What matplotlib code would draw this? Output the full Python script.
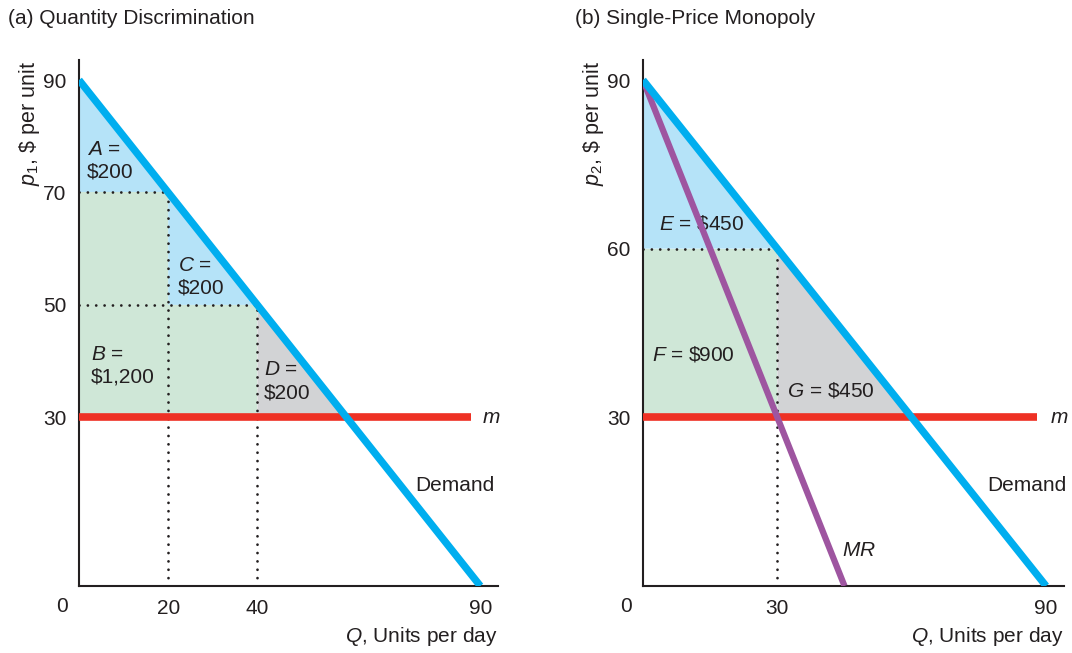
import matplotlib
matplotlib.use("Agg")
import matplotlib.pyplot as plt

plt.rcParams['font.family'] = ['Liberation Sans', 'DejaVu Sans']
plt.rcParams['mathtext.fontset'] = 'custom'
plt.rcParams['mathtext.rm'] = 'Liberation Sans'
plt.rcParams['mathtext.it'] = 'Liberation Sans:italic'

# demand, marginal cost and marginal revenue
demand_q = [0, 90]
demand_p = [90, 0]
mc_p = 30
mc_q = [0, 88]
mr_q = [0, 45]
mr_p = [90, 0]

# (a) quantity discrimination: block prices and quantities
blocks_q = [20, 40]
blocks_p = [70, 50]
area_a = [(0, 70), (0, 90), (20, 70)]
area_c = [(20, 50), (20, 70), (40, 50)]
area_b = [(0, 30), (0, 70), (20, 70), (20, 50), (40, 50), (40, 30)]
area_d = [(40, 30), (40, 50), (60, 30)]

# (b) single-price monopoly
mono_q = 30
mono_p = 60
area_e = [(0, 60), (0, 90), (30, 60)]
area_f = [(0, 30), (0, 60), (30, 60), (30, 30)]
area_g = [(30, 30), (30, 60), (60, 30)]

left_yticks = [30, 50, 70, 90]
left_xticks = [20, 40, 90]
right_yticks = [30, 60, 90]
right_xticks = [30, 90]

BLUE = '#00AEEF'
LBLUE = '#B5E3F8'
GREEN = '#CFE7D7'
GRAY = '#D2D3D5'
RED = '#EE3124'
PURPLE = '#9E55A0'
TXT = '#231F20'
FS = 15

fig = plt.figure(figsize=(10.72, 6.53), dpi=100)
ax1 = fig.add_axes([0.0737, 0.1026, 0.391, 0.805])
ax2 = fig.add_axes([0.5998, 0.1026, 0.3927, 0.805])


def setup(ax, xt, yt, ylab):
    ax.set_xlim(0, 94)
    ax.set_ylim(0, 93.5)
    for s in ['top', 'right']:
        ax.spines[s].set_visible(False)
    for s in ['left', 'bottom']:
        ax.spines[s].set_linewidth(1.5)
        ax.spines[s].set_color(TXT)
    ax.set_xticks(xt)
    ax.set_yticks(yt)
    ax.tick_params(length=0, labelsize=FS, labelcolor=TXT, pad=9)
    ax.annotate('0', xy=(0, 0), xytext=(-17, -20), textcoords='offset pixels',
                ha='center', va='center', fontsize=FS, color=TXT)
    ax.text(1.0, -0.097, '$Q$, Units per day', transform=ax.transAxes,
            ha='right', va='center', fontsize=FS, color=TXT)
    ax.text(-0.117, 0.998, ylab, transform=ax.transAxes, rotation=90,
            ha='center', va='top', fontsize=FS + 0.5, color=TXT)


def fill(ax, pts, color):
    ax.fill([p[0] for p in pts], [p[1] for p in pts], color=color, lw=0, zorder=1)


def dotted(ax, x, y):
    ax.plot(x, y, color=TXT, lw=2, linestyle=(0, (0.01, 3)),
            dash_capstyle='round', zorder=2)


# ---- panel (a)
setup(ax1, left_xticks, left_yticks, '$p_1$, \\$ per unit')
fill(ax1, area_a, LBLUE)
fill(ax1, area_c, LBLUE)
fill(ax1, area_b, GREEN)
fill(ax1, area_d, GRAY)
for q, p in zip(blocks_q, blocks_p):
    dotted(ax1, [0, q], [p, p])
    dotted(ax1, [q, q], [0, p])
ax1.plot(mc_q, [mc_p, mc_p], color=RED, lw=5.5, solid_capstyle='butt', zorder=3)
ax1.plot(demand_q, demand_p, color=BLUE, lw=5.3, solid_capstyle='butt', zorder=5)

ax1.text(1.8, 75.7, '$A$ =\n\\$200', fontsize=FS, color=TXT, va='center', linespacing=1.25)
ax1.text(22.2, 55, '$C$ =\n\\$200', fontsize=FS, color=TXT, va='center', linespacing=1.25)
ax1.text(2.7, 39.2, '$B$ =\n\\$1,200', fontsize=FS, color=TXT, va='center', linespacing=1.25)
ax1.text(41.5, 36.4, '$D$ =\n\\$200', fontsize=FS, color=TXT, va='center', linespacing=1.25)
ax1.text(90.4, 30, '$m$', fontsize=FS, color=TXT, va='center')
ax1.text(84.3, 17.8, 'Demand', fontsize=FS, color=TXT, va='center', ha='center')
ax1.text(-0.17, 1.08, '(a) Quantity Discrimination', transform=ax1.transAxes,
         fontsize=FS, color=TXT, va='center', ha='left')

# ---- panel (b)
setup(ax2, right_xticks, right_yticks, '$p_2$, \\$ per unit')
fill(ax2, area_e, LBLUE)
fill(ax2, area_f, GREEN)
fill(ax2, area_g, GRAY)
dotted(ax2, [0, mono_q], [mono_p, mono_p])
dotted(ax2, [mono_q, mono_q], [0, mono_p])
ax2.plot(mc_q, [mc_p, mc_p], color=RED, lw=5.5, solid_capstyle='butt', zorder=3)
ax2.plot(mr_q, mr_p, color=PURPLE, lw=4.5, solid_capstyle='butt', zorder=4)
ax2.plot(demand_q, demand_p, color=BLUE, lw=5.3, solid_capstyle='butt', zorder=5)

ax2.text(3.6, 64.4, '$E$ = \\$450', fontsize=FS, color=TXT, va='center')
ax2.text(2.0, 41.2, '$F$ = \\$900', fontsize=FS, color=TXT, va='center')
ax2.text(32.2, 34.8, '$G$ = \\$450', fontsize=FS, color=TXT, va='center')
ax2.text(90.8, 30, '$m$', fontsize=FS, color=TXT, va='center')
ax2.text(85.8, 17.8, 'Demand', fontsize=FS, color=TXT, va='center', ha='center')
ax2.text(44.4, 6.4, '$MR$', fontsize=FS, color=TXT, va='center')
ax2.text(-0.162, 1.08, '(b) Single-Price Monopoly', transform=ax2.transAxes,
         fontsize=FS, color=TXT, va='center', ha='left')

fig.savefig('out.png', dpi=100)
